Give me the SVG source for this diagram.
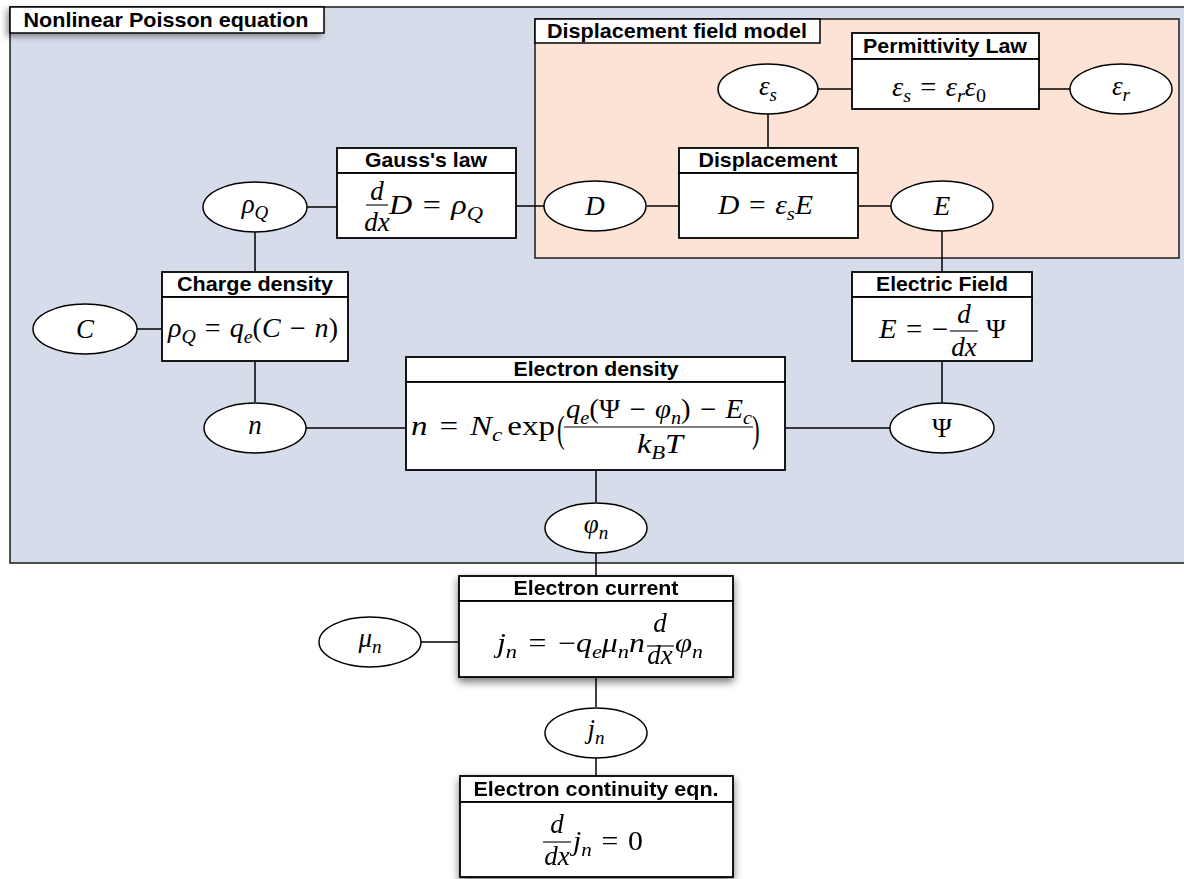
<svg xmlns="http://www.w3.org/2000/svg" width="1184" height="879" viewBox="0 0 1184 879">
<defs>
<style>
.frame{fill:#d6dce9;stroke:#1a1a1a;stroke-width:1.5}
.peach{fill:#fde3d5;stroke:#1a1a1a;stroke-width:1.5}
.tab{fill:#fff;stroke:#000;stroke-width:1.5}
.box{fill:#fff;stroke:#000;stroke-width:1.8}
.ell{fill:#fff;stroke:#000;stroke-width:1.5}
.conn line{stroke:#000;stroke-width:1.5}
.bar{stroke:#000;stroke-width:1.1}
.t{font-family:"Liberation Sans",Arial,sans-serif;font-weight:bold;font-size:21px;fill:#000;text-anchor:middle}
.m{font-family:"Liberation Serif","Times New Roman",serif;font-style:italic;font-size:27px;fill:#000}
.c{text-anchor:middle}
.rm{font-style:normal}
.sb{font-size:19px}
</style>
<filter id="sh" x="-20%" y="-30%" width="140%" height="170%">
<feGaussianBlur in="SourceAlpha" stdDeviation="4"/>
<feOffset dx="0" dy="4" result="b"/>
<feComponentTransfer><feFuncA type="linear" slope="0.55"/></feComponentTransfer>
<feMerge><feMergeNode/><feMergeNode in="SourceGraphic"/></feMerge>
</filter>
<filter id="sh2" x="-20%" y="-50%" width="140%" height="220%">
<feGaussianBlur in="SourceAlpha" stdDeviation="3"/>
<feOffset dx="-3" dy="3" result="b"/>
<feComponentTransfer><feFuncA type="linear" slope="0.4"/></feComponentTransfer>
<feMerge><feMergeNode/><feMergeNode in="SourceGraphic"/></feMerge>
</filter>
</defs>

<g id="poisson-frame">
<rect class="frame" x="10" y="7" width="1190" height="556"/>
<rect class="tab" x="10" y="7" width="314" height="26" filter="url(#sh2)"/>
<text class="t" x="166" y="27" textLength="285" lengthAdjust="spacingAndGlyphs">Nonlinear Poisson equation</text>
</g>

<g id="displacement-frame">
<rect class="peach" x="535" y="19" width="644" height="239"/>
<rect class="tab" x="535" y="19" width="285" height="24"/>
<text class="t" x="677" y="38" textLength="260" lengthAdjust="spacingAndGlyphs">Displacement field model</text>
</g>

<g id="connectors" class="conn">
<line x1="307" y1="207" x2="337" y2="207"/>
<line x1="516" y1="206" x2="544" y2="206"/>
<line x1="647" y1="206" x2="679" y2="206"/>
<line x1="858" y1="206" x2="891" y2="206"/>
<line x1="768" y1="114" x2="768" y2="148"/>
<line x1="818" y1="89" x2="852" y2="89"/>
<line x1="1039" y1="89" x2="1070" y2="89"/>
<line x1="942" y1="231" x2="942" y2="272"/>
<line x1="942" y1="361" x2="942" y2="403"/>
<line x1="891" y1="428" x2="785" y2="428"/>
<line x1="406" y1="428" x2="306" y2="428"/>
<line x1="255" y1="402" x2="255" y2="361"/>
<line x1="255" y1="272" x2="255" y2="232"/>
<line x1="137" y1="329" x2="162" y2="329"/>
<line x1="596" y1="470" x2="596" y2="502"/>
<line x1="596" y1="553" x2="596" y2="576"/>
<line x1="421" y1="642" x2="459" y2="642"/>
<line x1="596" y1="677" x2="596" y2="707"/>
<line x1="596" y1="758" x2="596" y2="776"/>
</g>

<g id="var-eps-s">
<ellipse class="ell" cx="768" cy="89" rx="50" ry="25"/>
<text class="m c" x="768" y="95">ε<tspan class="sb" dy="6">s</tspan></text>
</g>
<g id="var-eps-r">
<ellipse class="ell" cx="1121" cy="89" rx="51" ry="25"/>
<text class="m c" x="1121" y="95">ε<tspan class="sb" dy="6">r</tspan></text>
</g>
<g id="permittivity-law">
<rect class="box" x="852" y="33" width="187" height="26"/>
<rect class="box" x="852" y="59" width="187" height="50"/>
<text class="t" x="945" y="53" textLength="164" lengthAdjust="spacingAndGlyphs">Permittivity Law</text>
<text class="m" x="892" y="96" textLength="94" lengthAdjust="spacingAndGlyphs">ε<tspan class="sb" dy="6">s</tspan><tspan class="rm" dy="-6" dx="2"> = </tspan><tspan dx="2">ε</tspan><tspan class="sb" dy="6">r</tspan><tspan dy="-6">ε</tspan><tspan class="sb rm" dy="6">0</tspan></text>
</g>

<g id="var-D">
<ellipse class="ell" cx="595" cy="206" rx="51" ry="25"/>
<text class="m c" x="595" y="215">D</text>
</g>
<g id="var-E">
<ellipse class="ell" cx="942" cy="206" rx="51" ry="25"/>
<text class="m c" x="942" y="215">E</text>
</g>
<g id="displacement">
<rect class="box" x="679" y="148" width="179" height="25"/>
<rect class="box" x="679" y="173" width="179" height="65"/>
<text class="t" x="768" y="167" textLength="139" lengthAdjust="spacingAndGlyphs">Displacement</text>
<text class="m" x="718" y="214" textLength="95" lengthAdjust="spacingAndGlyphs">D<tspan class="rm" dx="2"> = </tspan><tspan dx="2">ε</tspan><tspan class="sb" dy="6">s</tspan><tspan dy="-6">E</tspan></text>
</g>

<g id="var-rhoQ">
<ellipse class="ell" cx="255" cy="207" rx="52" ry="25"/>
<text class="m c" x="255" y="213">ρ<tspan class="sb" dy="6">Q</tspan></text>
</g>
<g id="gauss-law">
<rect class="box" x="337" y="148" width="179" height="25"/>
<rect class="box" x="337" y="173" width="179" height="65"/>
<text class="t" x="426" y="167" textLength="122" lengthAdjust="spacingAndGlyphs">Gauss's law</text>
<text class="m c" x="377" y="200">d</text>
<line class="bar" x1="366" y1="205" x2="388" y2="205"/>
<text class="m c" x="377" y="231">dx</text>
<text class="m" x="389" y="214" textLength="94" lengthAdjust="spacingAndGlyphs">D<tspan class="rm" dx="2"> = </tspan><tspan dx="2">ρ</tspan><tspan class="sb" dy="6">Q</tspan></text>
</g>

<g id="var-C">
<ellipse class="ell" cx="85" cy="329" rx="52" ry="25"/>
<text class="m c" x="85" y="338">C</text>
</g>
<g id="charge-density">
<rect class="box" x="162" y="272" width="186" height="25"/>
<rect class="box" x="162" y="297" width="186" height="64"/>
<text class="t" x="255" y="291" textLength="156" lengthAdjust="spacingAndGlyphs">Charge density</text>
<text class="m" x="168" y="337" textLength="170" lengthAdjust="spacingAndGlyphs">ρ<tspan class="sb" dy="6">Q</tspan><tspan class="rm" dy="-6" dx="2"> = </tspan><tspan dx="2">q</tspan><tspan class="sb" dy="6">e</tspan><tspan class="rm" dy="-6">(</tspan>C<tspan class="rm" dx="2"> − </tspan><tspan dx="2">n</tspan><tspan class="rm">)</tspan></text>
</g>

<g id="var-n">
<ellipse class="ell" cx="255" cy="428" rx="51" ry="25"/>
<text class="m c" x="255" y="434">n</text>
</g>
<g id="var-Psi">
<ellipse class="ell" cx="942" cy="428" rx="52" ry="25"/>
<text class="m c rm" x="942" y="437">Ψ</text>
</g>
<g id="electric-field">
<rect class="box" x="852" y="272" width="180" height="25"/>
<rect class="box" x="852" y="297" width="180" height="64"/>
<text class="t" x="942" y="291" textLength="132" lengthAdjust="spacingAndGlyphs">Electric Field</text>
<text class="m" x="879" y="338" textLength="69" lengthAdjust="spacingAndGlyphs">E<tspan class="rm" dx="2"> = </tspan><tspan class="rm" dx="2">−</tspan></text>
<text class="m c" x="964" y="323">d</text>
<line class="bar" x1="950" y1="331" x2="978" y2="331"/>
<text class="m c" x="964" y="356">dx</text>
<text class="m rm" x="986" y="338">Ψ</text>
</g>

<g id="electron-density">
<rect class="box" x="406" y="357" width="379" height="25"/>
<rect class="box" x="406" y="382" width="379" height="88"/>
<text class="t" x="596" y="376" textLength="165" lengthAdjust="spacingAndGlyphs">Electron density</text>
<text class="m" x="411" y="435" textLength="144" lengthAdjust="spacingAndGlyphs">n<tspan class="rm" dx="3"> = </tspan><tspan dx="3">N</tspan><tspan class="sb" dy="6">c</tspan><tspan class="rm" dy="-6" dx="4">exp</tspan></text>
<text class="m rm" transform="translate(557,442) scale(0.85,1.4)" font-size="40">(</text>
<text class="m" x="566" y="418" textLength="186" lengthAdjust="spacingAndGlyphs">q<tspan class="sb" dy="6">e</tspan><tspan class="rm" dy="-6">(Ψ</tspan><tspan class="rm" dx="2"> − </tspan><tspan dx="2">φ</tspan><tspan class="sb" dy="6">n</tspan><tspan class="rm" dy="-6">)</tspan><tspan class="rm" dx="2"> − </tspan><tspan dx="2">E</tspan><tspan class="sb" dy="6">c</tspan></text>
<line class="bar" x1="564" y1="427" x2="753" y2="427"/>
<text class="m" x="637" y="453" textLength="46" lengthAdjust="spacingAndGlyphs">k<tspan class="sb" dy="6">B</tspan><tspan dy="-6">T</tspan></text>
<text class="m rm" transform="translate(752,442) scale(0.85,1.4)" font-size="40">)</text>
</g>

<g id="var-phin">
<ellipse class="ell" cx="596" cy="528" rx="51" ry="25"/>
<text class="m c" x="596" y="533">φ<tspan class="sb" dy="6">n</tspan></text>
</g>
<g id="var-mun">
<ellipse class="ell" cx="370" cy="642" rx="51" ry="25"/>
<text class="m c" x="370" y="647">μ<tspan class="sb" dy="6">n</tspan></text>
</g>
<g id="electron-current" filter="url(#sh)">
<rect class="box" x="459" y="576" width="274" height="25"/>
<rect class="box" x="459" y="601" width="274" height="76"/>
<text class="t" x="596" y="595" textLength="165" lengthAdjust="spacingAndGlyphs">Electron current</text>
<text class="m" x="497" y="652" textLength="148" lengthAdjust="spacingAndGlyphs">j<tspan class="sb" dy="6">n</tspan><tspan class="rm" dy="-6" dx="3"> = </tspan><tspan class="rm" dx="3">−</tspan><tspan>q</tspan><tspan class="sb" dy="6">e</tspan><tspan dy="-6">μ</tspan><tspan class="sb" dy="6">n</tspan><tspan dy="-6">n</tspan></text>
<text class="m c" x="660" y="632">d</text>
<line class="bar" x1="647" y1="646" x2="674" y2="646"/>
<text class="m c" x="660" y="664">dx</text>
<text class="m" x="675" y="652" textLength="28" lengthAdjust="spacingAndGlyphs">φ<tspan class="sb" dy="6">n</tspan></text>
</g>

<g id="var-jn">
<ellipse class="ell" cx="596" cy="733" rx="51" ry="25"/>
<text class="m c" x="596" y="738">j<tspan class="sb" dy="6">n</tspan></text>
</g>
<g id="electron-continuity" filter="url(#sh)">
<rect class="box" x="460" y="776" width="273" height="26"/>
<rect class="box" x="460" y="802" width="273" height="75"/>
<text class="t" x="596" y="796" textLength="245" lengthAdjust="spacingAndGlyphs">Electron continuity eqn.</text>
<text class="m c" x="557" y="833">d</text>
<line class="bar" x1="543" y1="842" x2="571" y2="842"/>
<text class="m c" x="557" y="865">dx</text>
<text class="m" x="573" y="850" textLength="70" lengthAdjust="spacingAndGlyphs">j<tspan class="sb" dy="6">n</tspan><tspan class="rm" dy="-6" dx="2"> = </tspan><tspan class="rm" dx="2">0</tspan></text>
</g>
</svg>
